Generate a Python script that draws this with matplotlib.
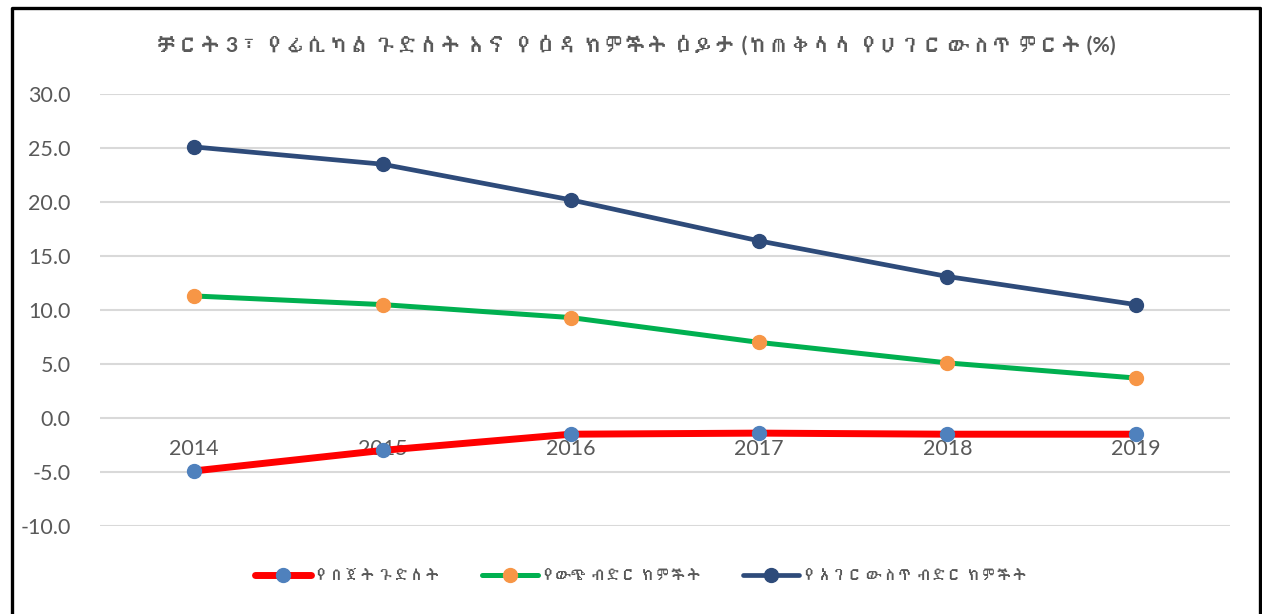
import matplotlib
matplotlib.use("Agg")
import matplotlib.pyplot as plt
from matplotlib import font_manager
from matplotlib.ft2font import FT2Font
from matplotlib.lines import Line2D

years = ["2014", "2015", "2016", "2017", "2018", "2019"]
budget_deficit = [-4.9, -3.0, -1.5, -1.4, -1.5, -1.5]
external_debt = [11.3, 10.5, 9.3, 7.0, 5.1, 3.7]
domestic_debt = [25.1, 23.5, 20.2, 16.4, 13.1, 10.5]
series_labels = ["የበጀት ጉድለት", "የውጭ ብድር ክምችት", "የአገር ውስጥ ብድር ክምችት"]
title = "ቻርት 3፣ የፊሲካል ጉድለት እና የዕዳ ክምችት ዕይታ (ከጠቅላላ የሀገር ውስጥ ምርት (%)"
yticks = [-10, -5, 0, 5, 10, 15, 20, 25, 30]


def find_family(codepoint):
    for f in font_manager.fontManager.ttflist:
        try:
            if codepoint in FT2Font(f.fname).get_charmap():
                return f.name
        except Exception:
            pass
    return None


eth = find_family(0x12A0)
families = ["Lato"] + ([eth] if eth else []) + ["DejaVu Sans"]
plt.rcParams["font.family"] = families

GRAY = "#595959"
fig = plt.figure(figsize=(12.62, 6.14), dpi=100)
ax = fig.add_axes([100 / 1262, 1 - 526 / 614, 1130 / 1262, 432 / 614])

x = range(len(years))
styles = [
    (budget_deficit, "#FF0000", "#4F81BD", 5.0),
    (external_debt, "#00B050", "#F79646", 3.6),
    (domestic_debt, "#2E4B7A", "#2E4B7A", 3.4),
]
for (vals, lc, mc, lw), lab in zip(styles, series_labels):
    ax.plot(x, vals, color=lc, lw=lw, marker="o", ms=10, mfc=mc, mec=mc,
            label=lab, solid_capstyle="round", zorder=3)

ax.set_xlim(-0.5, len(years) - 0.5)
ax.set_ylim(-10, 30)
ax.set_yticks(yticks)
ax.set_yticklabels([f"{v:.1f}" for v in yticks], fontsize=15.5, color=GRAY)
ax.grid(axis="y", color="#D9D9D9", lw=1.5)
ax.set_axisbelow(True)
for s in ax.spines.values():
    s.set_visible(False)
ax.tick_params(length=0, pad=21)
ax.set_xticks([])
# category labels sit just under the zero line (Excel axis crossing at 0)
for i, yr in enumerate(years):
    ax.text(i, -2.85, yr, ha="center", va="center", fontsize=15.5,
            color=GRAY, zorder=2)

fig.text(0.504, 1 - 45 / 614, title, ha="center", va="center", fontsize=15.3,
         fontweight="bold", color=GRAY)

ax.legend(loc="center", bbox_to_anchor=(0.508, 1 - 576 / 614), bbox_transform=fig.transFigure,
          ncol=3, frameon=False, fontsize=11, labelcolor=GRAY, handlelength=3.7,
          columnspacing=2.7, handletextpad=0.2)

# chart frame (left, top, right edges)
fig.add_artist(Line2D([11.5 / 1262, 11.5 / 1262, 1259.5 / 1262, 1259.5 / 1262],
                      [0, 1 - 7.5 / 614, 1 - 7.5 / 614, 0],
                      transform=fig.transFigure, color="black", lw=2.4))

fig.savefig("out.png", dpi=100)
